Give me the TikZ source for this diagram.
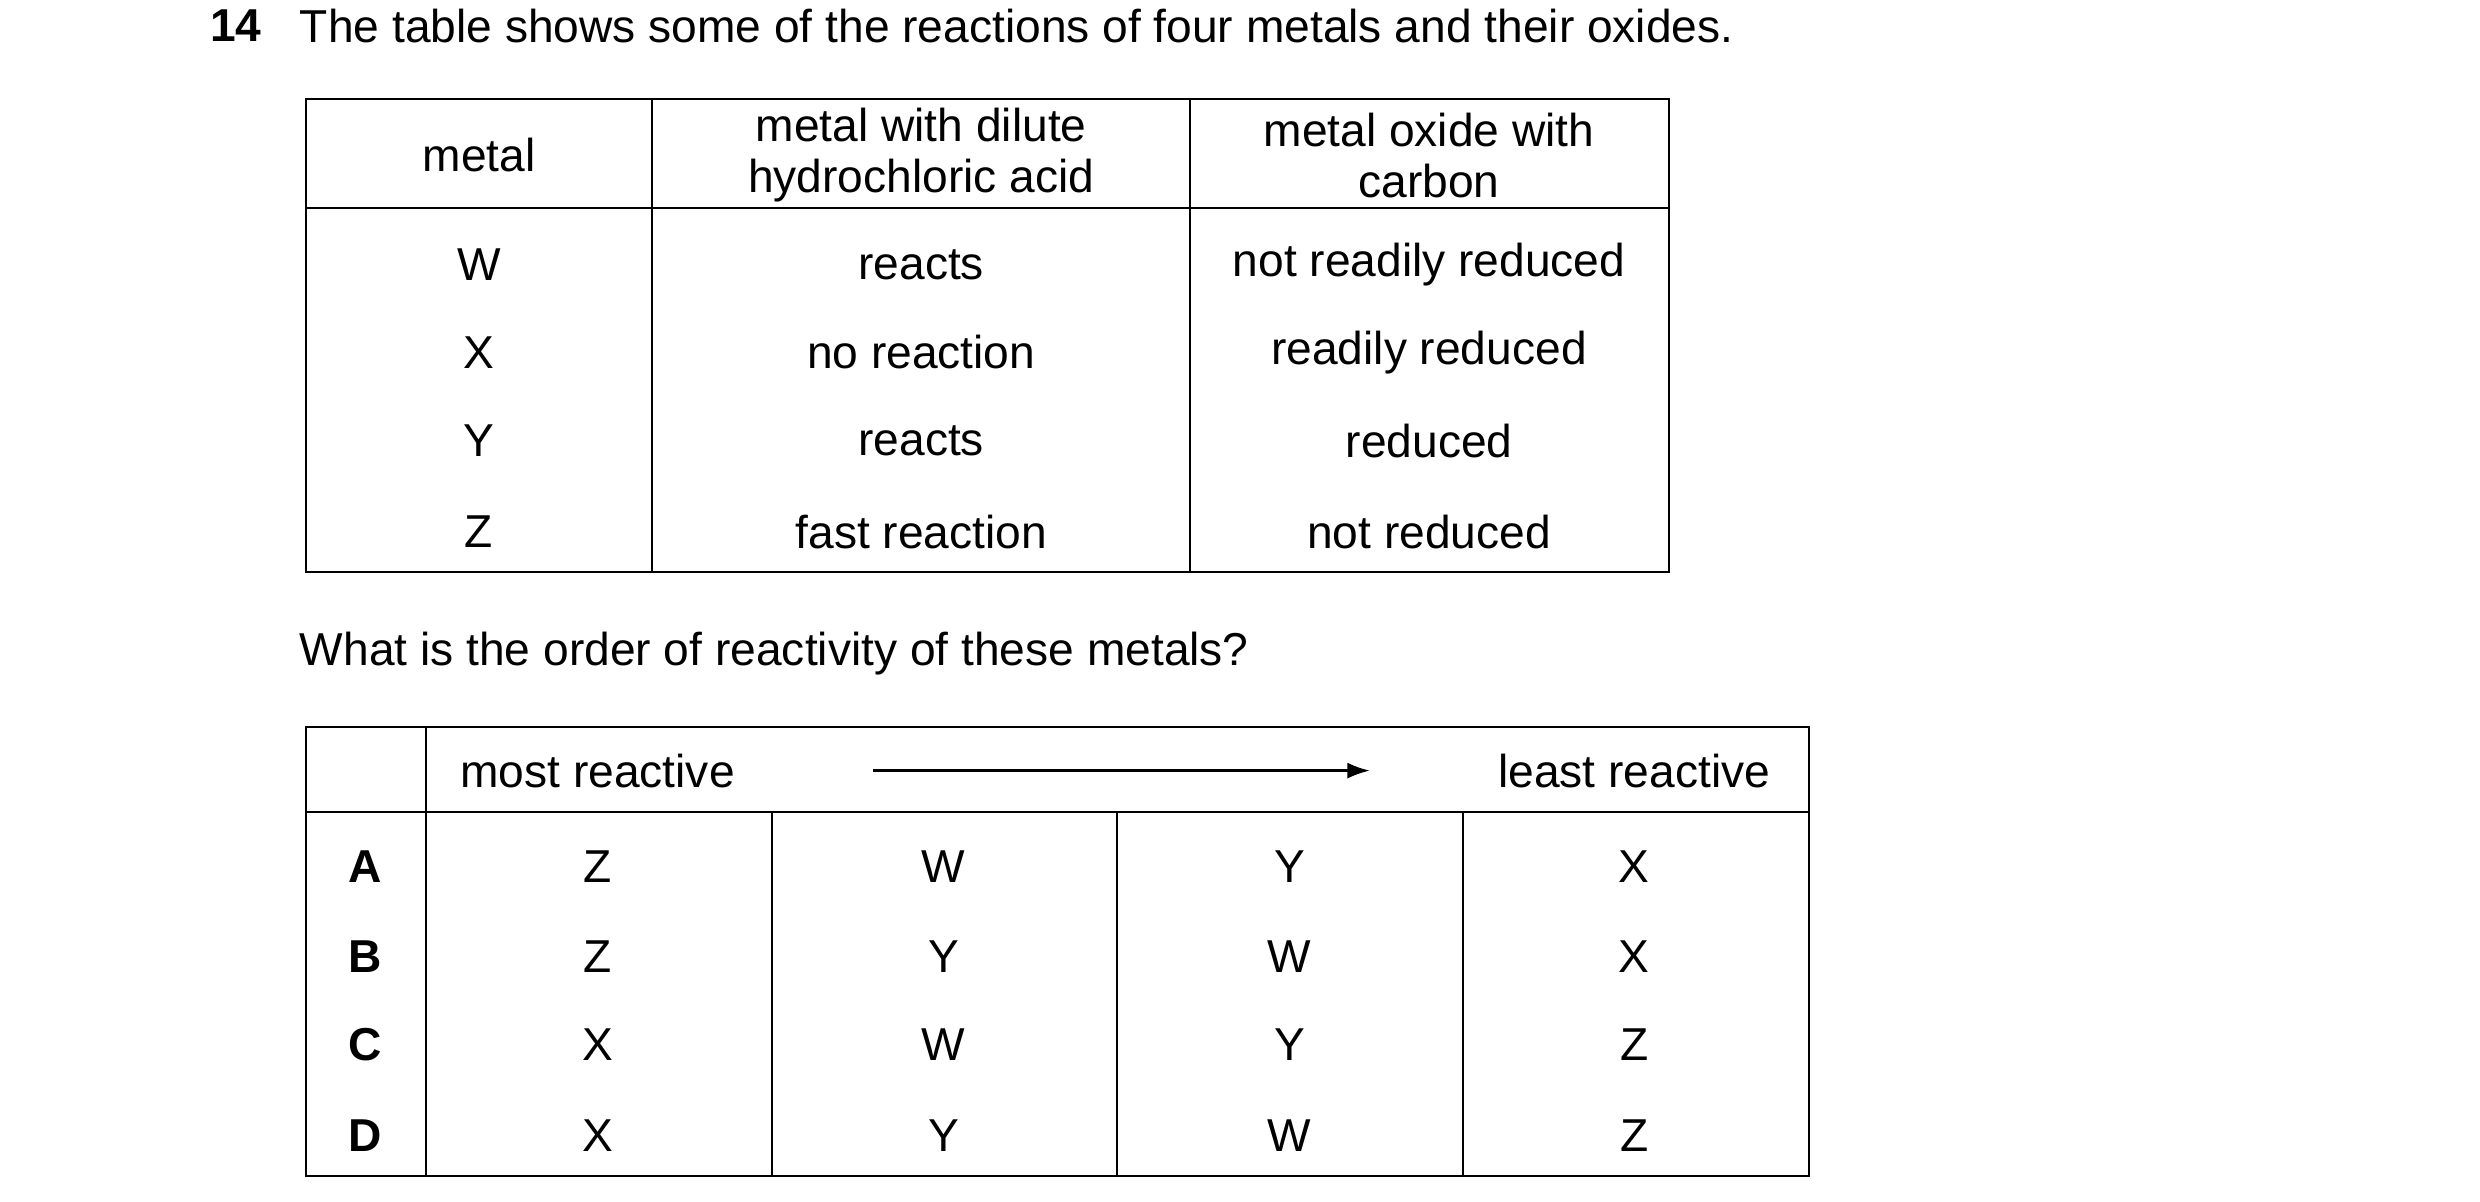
\documentclass[tikz,border=0pt]{standalone}
\usepackage{fontspec}
\usetikzlibrary{arrows.meta}
\setmainfont{Liberation Sans}
\begin{document}
\begin{tikzpicture}[x=1pt,y=-1pt,
  t/.style={inner sep=0pt,anchor=center,font=\fontsize{28.8}{32}\selectfont},
  ln/.style={line width=1.4pt}]
\useasboundingbox (0,0) rectangle (1548,750);
\node[t,anchor=west,font=\fontsize{28.8}{32}\selectfont\bfseries] (q) at (131,16) {14};
\node[t,anchor=west] (qt) at (187,16) {The table shows some of the reactions of four metals and their oxides.};
% table 1
\draw[ln] (191,62) rectangle (1042,357);
\draw[ln] (191,130) -- (1042,130);
\draw[ln] (407,62) -- (407,357) (743,62) -- (743,357);
\node[t] (h1) at (299,97) {metal};
\node[t,align=center] (h2) at (575,97) {metal with dilute\\hydrochloric acid};
\node[t,align=center] (h3) at (892,97) {metal oxide with\\carbon};
\foreach \m/\a/\b/\y in {W/reacts/not readily reduced/165, X/no reaction/readily reduced/220, Y/reacts/reduced/275, Z/fast reaction/not reduced/332}{
  \node[t] at (299,\y) {\m};
  \node[t] at (575,\y) {\a};
  \node[t] at (892,\y) {\b};
}
\node[t,anchor=west] (q2) at (187,408) {What is the order of reactivity of these metals?};
% table 2
\draw[ln] (191,454) rectangle (1129,734);
\draw[ln] (191,507) -- (1129,507);
\draw[ln] (266,454) -- (266,734);
\foreach \x in {482,697,913} \draw[ln] (\x,507) -- (\x,734);
\node[t] (mr) at (373,481) {most reactive};
\node[t] (lr) at (1020,481) {least reactive};
\coordinate (a1) at (545,481); \coordinate (a2) at (855,481);
\draw[line width=1.4pt,-{Latex[length=14pt,width=10pt]}] (a1) -- (a2);
\foreach \L/\p/\q/\r/\s/\y in {A/Z/W/Y/X/541, B/Z/Y/W/X/597, C/X/W/Y/Z/652, D/X/Y/W/Z/709}{
  \node[t,font=\fontsize{28.8}{32}\selectfont\bfseries] at (228,\y) {\L};
  \node[t] at (373,\y) {\p};
  \node[t] at (589,\y) {\q};
  \node[t] at (805,\y) {\r};
  \node[t] at (1020,\y) {\s};
}
\end{tikzpicture}
\end{document}
